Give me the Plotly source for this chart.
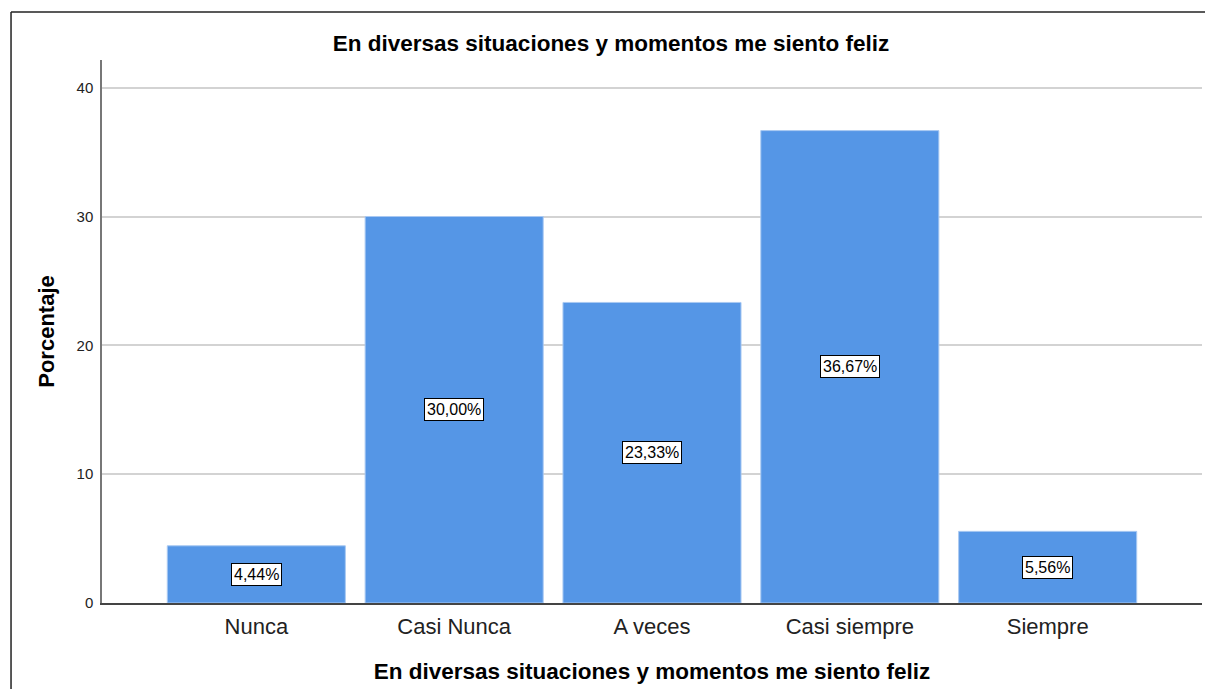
import plotly.graph_objects as go

categories = ["Nunca", "Casi Nunca", "A veces", "Casi siempre", "Siempre"]
percentages = [4.44, 30.00, 23.33, 36.67, 5.56]
value_labels = [f"{v:.2f}".replace(".", ",") + "%" for v in percentages]
y_ticks = [0, 10, 20, 30, 40]

title_text = "En diversas situaciones y momentos me siento feliz"
x_title = "En diversas situaciones y momentos me siento feliz"
y_title = "Porcentaje"

FONT = "Liberation Sans, Arial, sans-serif"
BAR_COLOR = "#5596e6"

# page body has an 8px margin; figure coordinates are offset accordingly
fig = go.Figure()
fig.add_trace(go.Bar(
    x=categories,
    y=percentages,
    width=0.9,
    marker=dict(color=BAR_COLOR, line=dict(color="#a9c9f2", width=1)),
    hoverinfo="skip",
))

annotations = []
for cat, val, lab in zip(categories, percentages, value_labels):
    annotations.append(dict(
        x=cat, y=val / 2, xref="x", yref="y",
        text=lab, showarrow=False,
        font=dict(family=FONT, size=16, color="#000000"),
        bgcolor="#ffffff", bordercolor="#000000", borderwidth=1, borderpad=2,
    ))

frame_left = -0.0827
frame_top = 1.0884

fig.update_layout(
    width=1213, height=689,
    margin=dict(l=94, r=19, t=52, b=94),
    paper_bgcolor="#ffffff",
    plot_bgcolor="#ffffff",
    showlegend=False,
    title=dict(
        text=f"<b>{title_text}</b>",
        x=603 / 1213, xref="container", xanchor="center",
        y=1 - 35 / 689, yref="container", yanchor="middle",
        font=dict(family=FONT, size=22.5, color="#000000"),
    ),
    xaxis=dict(
        range=[-0.78, 4.78],
        showgrid=False,
        showline=True, linecolor="#444444", linewidth=1.5,
        ticks="", ticklabelstandoff=3,
        tickfont=dict(family=FONT, size=22, color="#222222"),
        title=dict(text=f"<b>{x_title}</b>", standoff=25,
                   font=dict(family=FONT, size=22.5, color="#000000")),
        fixedrange=True,
    ),
    yaxis=dict(
        range=[0, 42.15],
        tickvals=y_ticks,
        showgrid=True, gridcolor="#d3d3d3", gridwidth=1.5,
        showline=True, linecolor="#777777", linewidth=1.5,
        zeroline=False,
        ticks="", ticklabelstandoff=4,
        tickfont=dict(family=FONT, size=15, color="#222222"),
        title=dict(text=f"<b>{y_title}</b>", standoff=16,
                   font=dict(family=FONT, size=22, color="#000000")),
        fixedrange=True,
    ),
    annotations=annotations,
    shapes=[
        dict(type="line", xref="paper", yref="paper",
             x0=frame_left, x1=1.1, y0=frame_top, y1=frame_top,
             line=dict(color="#222222", width=1.5), layer="above"),
        dict(type="line", xref="paper", yref="paper",
             x0=frame_left, x1=frame_left, y0=frame_top, y1=-0.3,
             line=dict(color="#222222", width=1.5), layer="above"),
    ],
)

fig.write_html("out.html")
